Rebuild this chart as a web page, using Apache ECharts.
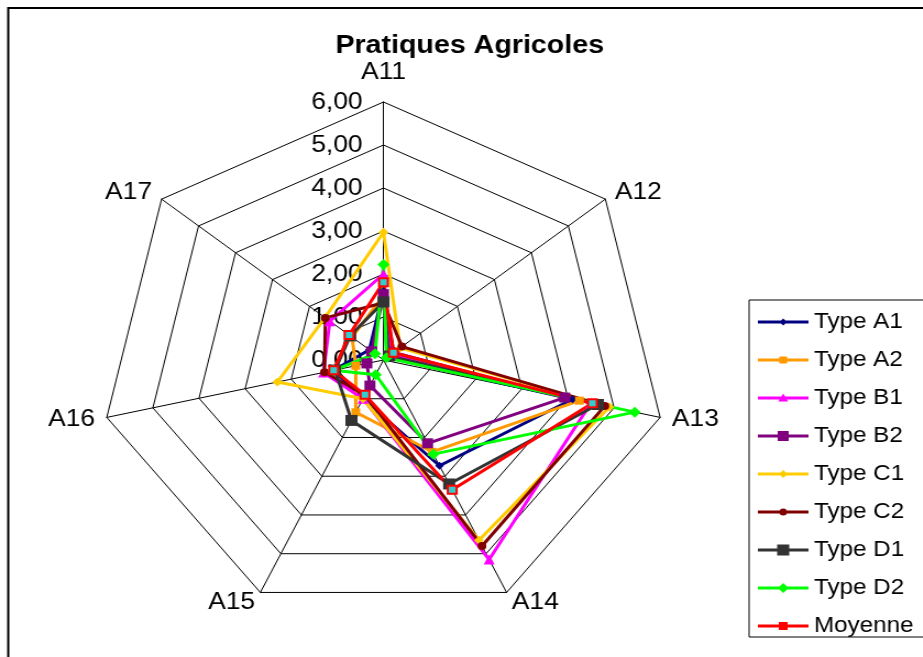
<!DOCTYPE html>
<html>
<head>
<meta charset="utf-8">
<title>Pratiques Agricoles</title>
<script src="https://cdn.jsdelivr.net/npm/echarts@6/dist/echarts.min.js"></script>
<style>
  html, body { margin: 0; padding: 0; background: #fff; overflow: hidden; }
  /* The chart is laid out in a narrower box and widened by 10% so the
     heptagon comes out wider than it is tall. */
  #chart {
    position: absolute; left: 0; top: 0;
    width: 839px; height: 657px;
    transform: scaleX(1.1); transform-origin: 0 0;
  }
</style>
</head>
<body>
<div id="chart"></div>
<script>
// Axes of the radar, clockwise from the top
const indicators = ['A11', 'A12', 'A13', 'A14', 'A15', 'A16', 'A17'];
const axisMax = 6;

// Scores per farm type, in indicator order A11..A17
const typeA1  = [1.60, 0.10, 4.10, 2.73, 1.00, 1.08, 0.38];
const typeA2  = [1.50, 0.20, 4.25, 2.37, 1.35, 0.60, 0.85];
const typeB1  = [2.00, 0.20, 4.50, 5.15, 1.00, 1.30, 1.45];
const typeB2  = [1.53, 0.28, 3.93, 2.15, 0.66, 0.36, 0.32];
const typeC1  = [2.97, 0.45, 4.90, 4.65, 1.00, 2.30, 1.58];
const typeC2  = [1.33, 0.50, 4.80, 4.80, 0.90, 1.28, 1.57];
const typeD1  = [1.35, 0.15, 4.65, 3.20, 1.56, 1.05, 0.90];
const typeD2  = [2.22, 0.08, 5.45, 2.43, 0.38, 1.08, 0.23];
const moyenne = [1.81, 0.27, 4.53, 3.35, 0.90, 1.08, 0.93];

const seriesNames = ['Type A1', 'Type A2', 'Type B1', 'Type B2', 'Type C1',
                     'Type C2', 'Type D1', 'Type D2', 'Moyenne'];
const seriesValues = [typeA1, typeA2, typeB1, typeB2, typeC1,
                      typeC2, typeD1, typeD2, moyenne];

// ECharts lays radar indicators out counter-clockwise, so the first axis stays
// on top and the rest are fed in reverse to run clockwise.
const order = [0, 6, 5, 4, 3, 2, 1];
const byOrder = arr => order.map(k => arr[k]);

// Line colour, marker shape and marker size for each series
const styles = [
  { color: '#000080', symbol: 'diamond',  size: 8 },
  { color: '#FF9900', symbol: 'rect',     size: 8 },
  { color: '#FF00FF', symbol: 'triangle', size: 10 },
  { color: '#800080', symbol: 'rect',     size: 10 },
  { color: '#FFCC00', symbol: 'diamond',  size: 9 },
  { color: '#800000', symbol: 'circle',   size: 8 },
  { color: '#333333', symbol: 'rect',     size: 11 },
  { color: '#00FF00', symbol: 'diamond',  size: 11 },
  { color: '#FF0000', symbol: 'rect',     size: 8, fill: '#33CCCC' }
];

// Legend glyphs: a short line with the series marker in the middle (46 x 14 box)
const corners = 'M0 0 L0.01 0 L0 0.01 Z M46 14 L45.99 14 L46 13.99 Z ';
const bar = 'M0 5.5 L46 5.5 L46 8.5 L0 8.5 Z ';
const legendMarks = [
  'M23 3.5 L26.5 7 L23 10.5 L19.5 7 Z',
  'M19.5 3.5 L26.5 3.5 L26.5 10.5 L19.5 10.5 Z',
  'M23 2.5 L27.5 10.5 L18.5 10.5 Z',
  'M18 2 L28 2 L28 12 L18 12 Z',
  'M23 3 L27 7 L23 11 L19 7 Z',
  'M19.5 7 A3.5 3.5 0 1 1 26.5 7 A3.5 3.5 0 1 1 19.5 7 Z',
  'M17.5 1.5 L28.5 1.5 L28.5 12.5 L17.5 12.5 Z',
  'M23 2 L28 7 L23 12 L18 7 Z',
  'M19 3 L27 3 L27 11 L19 11 Z'
];

const font = "'Liberation Sans', Arial, sans-serif";

const chart = echarts.init(document.getElementById('chart'), null, { renderer: 'canvas' });

chart.setOption({
  backgroundColor: '#fff',
  animation: false,
  title: {
    text: 'Pratiques Agricoles',
    left: 427,
    top: 33,
    padding: 0,
    textAlign: 'center',
    textStyle: { fontFamily: font, fontSize: 26, fontWeight: 'bold', color: '#000' }
  },
  graphic: [{
    type: 'rect',
    shape: { x: 7.5, y: 8, width: 1000, height: 1000 },
    style: { fill: 'none', stroke: '#000', lineWidth: 2 },
    silent: true,
    z: -10
  }],
  legend: {
    orient: 'vertical',
    left: 681,
    top: 300,
    padding: [11, 60, 0, 8],
    itemWidth: 46,
    itemHeight: 14,
    itemGap: 16,
    borderColor: '#000',
    borderWidth: 1,
    selectedMode: false,
    textStyle: { fontFamily: font, fontSize: 22, lineHeight: 22, color: '#000' },
    data: seriesNames.map((name, i) => ({
      name: name,
      icon: 'path://' + corners + bar + legendMarks[i],
      itemStyle: { color: styles[i].color, borderWidth: 0 }
    }))
  },
  radar: {
    center: [348.6, 360],
    radius: 258,
    startAngle: 90,
    shape: 'polygon',
    splitNumber: 6,
    nameGap: 11,
    axisName: { fontFamily: font, fontSize: 24, color: '#000' },
    axisLine: { lineStyle: { color: '#000', width: 1 } },
    splitLine: { lineStyle: { color: '#000', width: 1 } },
    splitArea: { show: false },
    axisLabel: {
      show: true,
      margin: 19,
      fontFamily: font,
      fontSize: 24,
      color: '#000',
      formatter: v => Number(v).toFixed(2).replace('.', ',')
    },
    indicator: byOrder(indicators).map((name, i) => ({
      name: name,
      min: 0,
      max: axisMax,
      nameGap: i === 0 ? 18 : 11,
      axisLabel: { show: i === 0 }
    }))
  },
  series: [{
    type: 'radar',
    silent: true,
    data: seriesNames.map((name, i) => ({
      name: name,
      value: byOrder(seriesValues[i]),
      symbol: styles[i].symbol,
      symbolSize: styles[i].size,
      lineStyle: { color: styles[i].color, width: 3 },
      itemStyle: styles[i].fill
        ? { color: styles[i].fill, borderColor: styles[i].color, borderWidth: 2 }
        : { color: styles[i].color, borderWidth: 0 }
    }))
  }]
});
</script>
</body>
</html>
